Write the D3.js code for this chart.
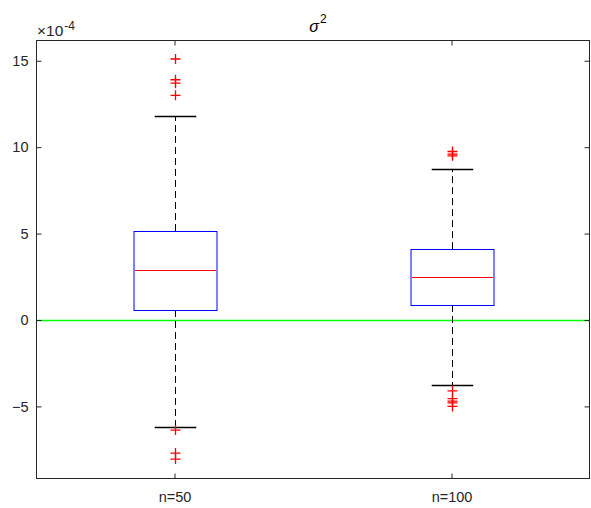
<!DOCTYPE html>
<html>
<head>
<meta charset="utf-8">
<script src="https://cdn.jsdelivr.net/npm/d3@7"></script>
<style>
  body { margin: 0; background: #fff; }
  text { font-family: "Liberation Sans", Arial, sans-serif; }
</style>
</head>
<body>
<div id="chart"></div>
<script>
// values in units of 1e-4
const groups = ["n=50", "n=100"];
const q1 = [0.58, 0.87];
const medians = [2.89, 2.49];
const q3 = [5.15, 4.1];
const whiskerLow = [-6.19, -3.76];
const whiskerHigh = [11.8, 8.74];
const outliers = [
  [15.1, 13.9, 13.7, 13.0, -6.37, -7.7, -8.05],
  [9.75, 9.6, 9.5, -4.1, -4.55, -4.7, -4.8, -5.0]
];
const yTicks = [-5, 0, 5, 10, 15];

const width = 591, height = 508;
const mLeft = 36, mRight = 590, mTop = 40, mBottom = 479;

const svg = d3.select("#chart").append("svg")
  .attr("width", width).attr("height", height);

const x = d3.scaleLinear().domain([0.5, 2.5]).range([mLeft, mRight]);
const y = d3.scaleLinear().domain([-9.2, 16.2]).range([mBottom, mTop]);

// green zero line
svg.append("line")
  .attr("x1", mLeft).attr("x2", mRight)
  .attr("y1", Math.round(y(0)) + 0.5).attr("y2", Math.round(y(0)) + 0.5)
  .attr("stroke", "#00ff00").attr("stroke-width", 1.5);

const boxW = x(1.15) - x(1);
const capW = boxW / 2;

groups.forEach((g, i) => {
  const cx = Math.round(x(i + 1)) + 0.5;
  const gg = svg.append("g");

  // whiskers
  gg.append("line")
    .attr("x1", cx).attr("x2", cx)
    .attr("y1", y(q3[i])).attr("y2", y(whiskerHigh[i]))
    .attr("stroke", "#000").attr("stroke-dasharray", "7,4");
  gg.append("line")
    .attr("x1", cx).attr("x2", cx)
    .attr("y1", y(q1[i])).attr("y2", y(whiskerLow[i]))
    .attr("stroke", "#000").attr("stroke-dasharray", "7,4");

  [whiskerHigh[i], whiskerLow[i]].forEach(v => {
    const yy = Math.round(y(v)) + 0.5;
    gg.append("line")
      .attr("x1", cx - capW).attr("x2", cx + capW)
      .attr("y1", yy).attr("y2", yy)
      .attr("stroke", "#000").attr("stroke-width", 1.3);
  });

  // box
  const yTop = Math.round(y(q3[i])) + 0.5, yBot = Math.round(y(q1[i])) + 0.5;
  gg.append("rect")
    .attr("x", Math.round(cx - boxW)).attr("y", yTop)
    .attr("width", Math.round(2 * boxW)).attr("height", yBot - yTop)
    .attr("fill", "none").attr("stroke", "#0000ff");

  const ym = Math.round(y(medians[i])) + 0.5;
  gg.append("line")
    .attr("x1", Math.round(cx - boxW) + 1).attr("x2", Math.round(cx - boxW) + Math.round(2 * boxW) - 1)
    .attr("y1", ym).attr("y2", ym)
    .attr("stroke", "#ff0000");

  // outliers as plus signs
  outliers[i].forEach(v => {
    gg.append("path")
      .attr("d", `M${cx - 5},${y(v)}H${cx + 5}M${cx},${y(v) - 5}V${y(v) + 5}`)
      .attr("stroke", "#ff0000").attr("stroke-width", 1.3).attr("fill", "none");
  });
});

// axes frame
const axisColor = "#262626";
svg.append("rect")
  .attr("x", mLeft + 0.5).attr("y", mTop + 0.5)
  .attr("width", mRight - mLeft - 1).attr("height", mBottom - mTop - 1)
  .attr("fill", "none").attr("stroke", axisColor).attr("stroke-width", 1);

const fontSize = 14.5;
const yAxisL = d3.axisLeft(y).tickValues(yTicks).tickSizeInner(-5).tickSizeOuter(0).tickPadding(8);
const yAxisR = d3.axisRight(y).tickValues(yTicks).tickSizeInner(-5).tickSizeOuter(0).tickFormat("");
const xAxisB = d3.axisBottom(x).tickValues([1, 2]).tickSizeInner(-5).tickSizeOuter(0).tickPadding(13)
  .tickFormat(d => groups[d - 1]);
const xAxisT = d3.axisTop(x).tickValues([1, 2]).tickSizeInner(-5).tickSizeOuter(0).tickFormat("");

[[yAxisL, `translate(${mLeft + 0.5},0)`], [yAxisR, `translate(${mRight - 0.5},0)`],
 [xAxisB, `translate(0,${mBottom - 0.5})`], [xAxisT, `translate(0,${mTop + 0.5})`]].forEach(([ax, tr]) => {
  const a = svg.append("g").attr("transform", tr).call(ax);
  a.select(".domain").remove();
  a.selectAll("line").attr("stroke", axisColor);
  a.selectAll("text").attr("fill", "#262626").attr("font-size", fontSize)
    .style("font-family", '"Liberation Sans", Arial, sans-serif');
});

// exponent label
const ex = svg.append("text").attr("x", 37).attr("y", 36)
  .attr("font-size", 15.5).attr("fill", "#262626");
ex.append("tspan").text("\u00d710");
ex.append("tspan").attr("dx", 1).attr("dy", -6).attr("font-size", 12).text("-4");

// title
const t = svg.append("text").attr("x", 318).attr("y", 32)
  .attr("text-anchor", "middle").attr("font-size", 16).attr("fill", "#000");
t.append("tspan").attr("font-style", "italic").text("\u03c3");
t.append("tspan").attr("dx", 1).attr("dy", -9).attr("font-size", 12).text("2");
</script>
</body>
</html>
